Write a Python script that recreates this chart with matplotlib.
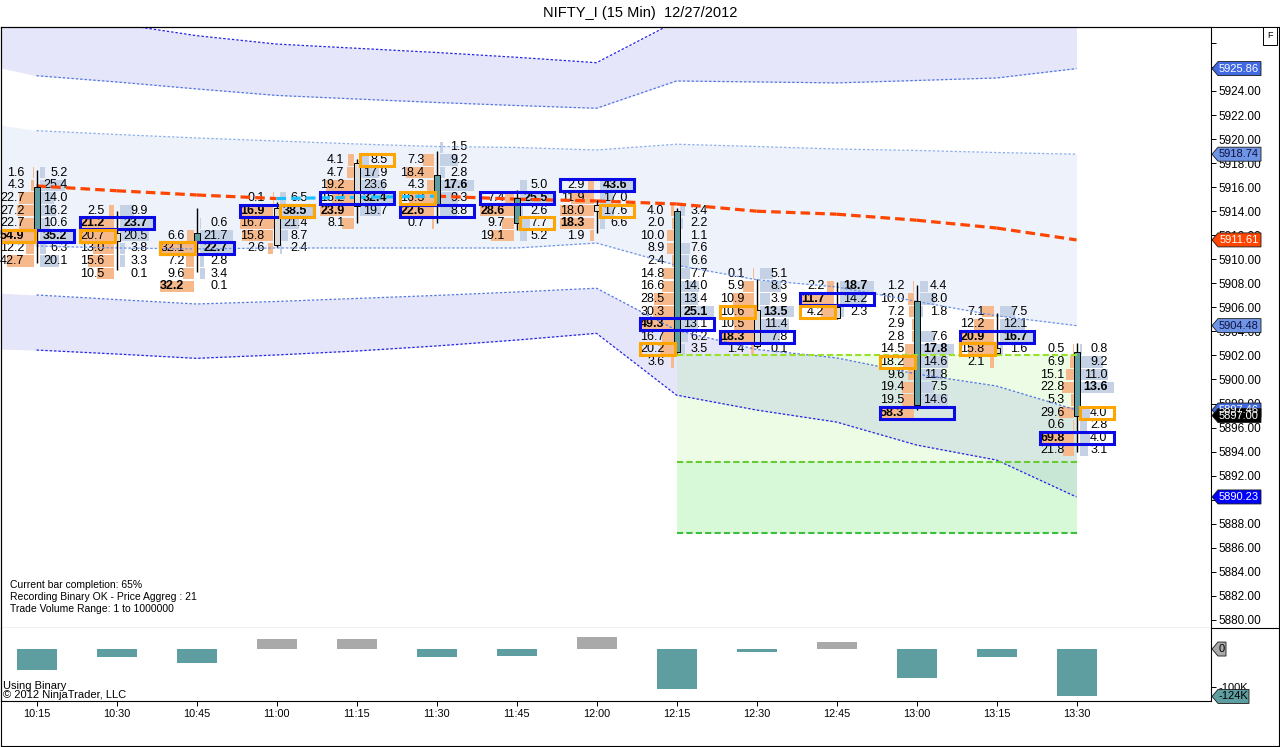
import numpy as np
import matplotlib.pyplot as plt
from matplotlib.patches import Rectangle, Polygon
from matplotlib.lines import Line2D
from matplotlib.transforms import IdentityTransform

plt.rcParams['font.family'] = ['Liberation Sans', 'DejaVu Sans']

# ---- data ----
times = ['10:15', '10:30', '10:45', '11:00', '11:15', '11:30', '11:45',
         '12:00', '12:15', '12:30', '12:45', '13:00', '13:15', '13:30']

opens  = [5916.0, 5911.5, 5912.2, 5911.2, 5914.4, 5917.0, 5915.1,
          5914.0, 5914.0, 5902.8, 5905.1, 5906.5, 5902.2, 5902.3]
highs  = [5917.4, 5914.0, 5914.3, 5914.8, 5918.3, 5919.0, 5915.8,
          5914.9, 5914.3, 5908.4, 5908.1, 5907.9, 5905.5, 5903.0]
lows   = [5909.7, 5909.1, 5908.9, 5911.0, 5913.0, 5913.0, 5912.4,
          5912.2, 5902.2, 5902.6, 5905.0, 5897.5, 5902.1, 5894.0]
closes = [5912.5, 5912.2, 5911.5, 5914.3, 5918.0, 5914.4, 5913.0,
          5914.5, 5902.3, 5905.8, 5906.0, 5897.9, 5902.6, 5897.0]

# price of the top footprint row of each bar (rows are 21 ticks = 1.05 apart)
row_step = 1.05
top_rows = [5917.20, 5914.05, 5913.00, 5915.10, 5918.25, 5919.30, 5916.15,
            5916.15, 5914.05, 5908.80, 5907.75, 5907.75, 5905.65, 5902.50]

bid_vals = [
    [1.6, 4.3, 22.7, 27.2, 22.7, 54.9, 12.2, 42.7],
    [2.5, 21.2, 20.7, 13.0, 15.6, 10.5],
    [None, 6.6, 32.1, 7.2, 9.6, 32.2],
    [0.1, 16.9, 16.7, 15.8, 2.6],
    [4.1, 4.7, 19.2, 15.2, 23.9, 8.1],
    [None, 7.3, 18.4, 4.3, 16.3, 22.6, 0.7],
    [None, 7.4, 28.6, 9.7, 19.1],
    [2.9, 11.9, 18.0, 18.3, 1.9],
    [4.0, 2.0, 10.0, 8.9, 2.4, 14.8, 16.6, 28.5, 30.3, 49.3, 16.7, 20.2, 3.6],
    [0.1, 5.9, 10.9, 10.6, 10.5, 18.3, 1.4],
    [2.2, 11.7, 4.2],
    [1.2, 10.0, 7.2, 2.9, 2.8, 14.5, 18.2, 9.6, 19.4, 19.5, 58.3],
    [7.1, 12.2, 20.9, 15.8, 2.1],
    [0.5, 6.9, 15.1, 22.8, 5.3, 29.6, 0.6, 69.8, 21.8],
]
ask_vals = [
    [5.2, 25.4, 14.0, 16.2, 10.6, 35.2, 6.3, 20.1],
    [9.9, 23.7, 20.5, 3.8, 3.3, 0.1],
    [0.6, 21.7, 22.7, 2.8, 3.4, 0.1],
    [6.5, 38.5, 21.4, 8.7, 2.4],
    [8.5, 17.9, 23.6, 32.4, 19.7, None],
    [1.5, 9.2, 2.8, 17.6, 9.3, 8.8, None],
    [5.0, 25.5, 2.6, 7.7, 5.2],
    [43.6, 17.0, 17.6, 6.6, None],
    [3.4, 2.2, 1.1, 7.6, 6.6, 7.7, 14.0, 13.4, 25.1, 13.1, 6.2, 3.5, None],
    [5.1, 8.3, 3.9, 13.5, 11.4, 7.8, 0.1],
    [18.7, 14.2, 2.3],
    [4.4, 8.0, 1.8, None, 7.6, 17.8, 14.6, 11.8, 7.5, 14.6, None],
    [7.5, 12.1, 16.7, 1.6, None],
    [0.8, 9.2, 11.0, 13.6, None, 4.0, 2.8, 4.0, 3.1],
]
# orange highlighted cell: (row index inside bar, side)
orange_cells = [(5, 'bid'), (2, 'bid'), (2, 'bid'), (1, 'ask'), (0, 'ask'),
                (4, 'bid'), (3, 'ask'), (2, 'ask'), (11, 'bid'), (3, 'bid'),
                (2, 'bid'), (6, 'bid'), (3, 'bid'), (5, 'ask')]

# moving average (orange/cyan dashed)
ema = [5916.1, 5915.7, 5915.35, 5915.05, 5915.15, 5915.25, 5915.0,
       5914.85, 5914.6, 5914.0, 5913.75, 5913.25, 5912.6, 5911.61]

# band lines, first value is the 10:00 bar just off the left edge
band_x = list(range(-1, 14))
ub_out = [5931.0, 5930.3, 5929.6, 5928.6, 5927.9, 5927.55, 5927.2, 5926.8,
          5926.35, 5929.8, 5931.0, 5931.2, 5931.0, 5931.3, 5932.0]
ub_in  = [5926.69, 5925.27, 5924.75, 5924.17, 5923.63, 5923.33, 5923.04, 5922.79,
          5922.56, 5924.83, 5924.75, 5924.67, 5924.87, 5925.08, 5925.86]
mb_top = [5921.72, 5920.70, 5920.38, 5920.09, 5919.84, 5919.59, 5919.38, 5919.30,
          5919.09, 5919.57, 5919.38, 5919.17, 5919.05, 5918.88, 5918.74]
mb_bot = [5911.35, 5911.10, 5910.94, 5910.86, 5910.94, 5910.94, 5910.94, 5910.94,
          5911.35, 5909.50, 5908.30, 5907.70, 5906.50, 5905.30, 5904.48]
lb_top = [5907.36, 5907.03, 5906.65, 5906.28, 5906.49, 5906.74, 5906.99, 5907.28,
          5907.59, 5904.10, 5902.50, 5901.80, 5900.46, 5899.46, 5897.46]
lb_bot = [5902.62, 5902.45, 5902.12, 5901.76, 5902.04, 5902.37, 5902.79, 5903.28,
          5903.84, 5898.70, 5897.46, 5896.46, 5894.55, 5893.30, 5890.23]

# green zone from 12:15 to 13:30
zone_start, zone_end = 8, 13
zone_top, zone_mid, zone_bot = 5902.04, 5893.13, 5887.23

# bar delta volume (thousands)
delta = [-54, -20, -36, 26, 26, -20, -17, 31, -104, -7, 18, -75, -20, -124]

info_lines = ['Current bar completion: 65%',
              'Recording Binary OK - Price Aggreg : 21',
              'Trade Volume Range: 1 to 1000000']

TEAL = '#5f9ea0'
UPFILL = '#dcdcdc'
BIDC = '#f6b98c'
ASKC = '#c5d2e6'

W, H = 1280, 747
def fx(x):
    return x / W
def fy(y):
    return 1 - y / H

fig = plt.figure(figsize=(12.8, 7.47), dpi=100)
ax = fig.add_axes([fx(1), fy(628), fx(1211) - fx(1), fy(27) - fy(628)])
axv = fig.add_axes([fx(1), fy(701), fx(1211) - fx(1), fy(628) - fy(701)])

PX = 1 / 80.0   # one screen pixel in bar units
xlim = ((1 - 36.5) * PX, (1211 - 36.5) * PX)
ax.set_xlim(*xlim)
axv.set_xlim(*xlim)
ax.set_ylim(5879.33, 5929.32)
axv.set_ylim(-136, 55)

# ---- bands ----
ax.fill_between(band_x, ub_in, ub_out, color='#e6e6fa', lw=0, zorder=1)
ax.fill_between(band_x, mb_bot, mb_top, color='#eef2fb', lw=0, zorder=1)
ax.fill_between(band_x, lb_bot, lb_top, color='#e6e6fa', lw=0, zorder=1)

zx = [zone_start, zone_end]
ax.fill_between(zx, zone_mid, zone_top, color='#7cf04c', alpha=0.14, lw=0, zorder=1.5)
ax.fill_between(zx, zone_bot, zone_mid, color='#90ee90', alpha=0.35, lw=0, zorder=1.5)
ax.hlines(zone_top, zone_start, zone_end, colors='#99e22a', lw=1.5, linestyles=(0, (3, 1.5)), zorder=6)
ax.hlines(zone_mid, zone_start, zone_end, colors='#66cc33', lw=1.5, linestyles=(0, (3, 1.5)), zorder=6)
ax.hlines(zone_bot, zone_start, zone_end, colors='#3cbf3c', lw=1.5, linestyles=(0, (3, 1.5)), zorder=6)

# ---- footprint cells ----
for i in range(len(times)):
    bids, asks = bid_vals[i], ask_vals[i]
    rows = [top_rows[i] - row_step * k for k in range(len(bids))]
    bmax = max(v for v in bids if v is not None)
    amax = max(v for v in asks if v is not None)
    totals = [(b or 0) + (a or 0) for b, a in zip(bids, asks)]
    for k, p in enumerate(rows):
        b, a = bids[k], asks[k]
        if b is not None:
            L = b / bmax * 34 * PX
            ax.add_patch(Rectangle((i - 3 * PX - L, p - 0.47), L, 0.94, fc=BIDC, lw=0, zorder=2))
            ax.text(i - 12 * PX, p, f'{b:.1f}', ha='right', va='center', fontsize=9,
                    fontweight='bold' if b == bmax else 'normal', zorder=3)
        if a is not None:
            L = a / amax * 34 * PX
            ax.add_patch(Rectangle((i + 3.5 * PX, p - 0.47), L, 0.94, fc=ASKC, lw=0, zorder=2))
            ax.text(i + 31 * PX, p, f'{a:.1f}', ha='right', va='center', fontsize=9,
                    fontweight='bold' if a == amax else 'normal', zorder=3)
    # point of control box
    kp = int(np.argmax(totals))
    ax.add_patch(Rectangle((i - 36.5 * PX, rows[kp] - 0.5), 74 * PX, 1.0, fill=False,
                           ec='#0a0ae6', lw=2.2, zorder=7))
    ko, side = orange_cells[i]
    x0 = i - 36.5 * PX if side == 'bid' else i + 3 * PX
    ax.add_patch(Rectangle((x0, rows[ko] - 0.5), 34.5 * PX, 1.0, fill=False,
                           ec='#ffa500', lw=2.2, zorder=8))

# ---- band lines ----
bx = band_x[1:]
dot = (0, (2, 1.5))
ax.plot(bx, ub_out[1:], color='#2626e6', lw=0.9, ls=dot, zorder=4)
ax.plot(bx, ub_in[1:], color='#5578e0', lw=0.9, ls=dot, zorder=4)
ax.plot(bx, mb_top[1:], color='#8fb0ee', lw=0.9, ls=dot, zorder=4)
ax.plot(bx, mb_bot[1:], color='#6f95e6', lw=0.9, ls=dot, zorder=4)
ax.plot(bx, lb_top[1:], color='#5578e0', lw=0.9, ls=dot, zorder=4)
ax.plot(bx, lb_bot[1:], color='#2626e6', lw=0.9, ls=dot, zorder=4)

# ---- moving average, cyan where rising ----
for i in range(len(ema) - 1):
    c = '#1ec0ff' if ema[i + 1] > ema[i] else '#ff4500'
    ax.plot([i, i + 1], [ema[i], ema[i + 1]], color=c, lw=2.3,
            dashes=(3, 1.6), solid_capstyle='butt', zorder=4.5)

# ---- candles ----
for i in range(len(times)):
    o, h, l, c = opens[i], highs[i], lows[i], closes[i]
    ax.vlines(i, l, h, color='black', lw=1, zorder=5)
    body_lo = min(o, c)
    body_h = max(abs(c - o), 0.1)
    ax.add_patch(Rectangle((i - 3 * PX, body_lo), 6 * PX, body_h,
                           fc=TEAL if c < o else UPFILL, ec='black', lw=0.7, zorder=5.5))

# ---- info text ----
for j, s in enumerate(info_lines):
    ax.text(9 / 1210, (628 - 585 - 12 * j) / 601, s, transform=ax.transAxes,
            fontsize=7.5, va='center', ha='left', zorder=9)

# ---- axes styling ----
ax.tick_params(axis='x', bottom=False, labelbottom=False)
ax.yaxis.tick_right()
ticks = np.arange(5880, 5929, 2)
hidden = [5928, 5926, 5890]   # covered by the value tags / top edge
ax.set_yticks(ticks)
ax.set_yticklabels(['' if t in hidden else f'{t:.2f}' for t in ticks])
ax.tick_params(axis='y', direction='out', length=3.6, width=0.7, labelsize=8.5, pad=2)
for sp in ax.spines.values():
    sp.set_linewidth(0.8)

# ---- delta panel ----
xs = np.arange(len(times))
axv.bar(xs, delta, width=0.5, color=[TEAL if d < 0 else '#a9a9a9' for d in delta], zorder=2)
axv.yaxis.tick_right()
axv.set_yticks([-100])
axv.set_yticklabels(['-100K'])
axv.tick_params(axis='y', direction='out', length=3.6, width=0.7, labelsize=8, pad=2)
axv.set_xticks(xs)
axv.set_xticklabels(times)
axv.tick_params(axis='x', direction='out', length=3.6, width=0.7, labelsize=7.8, pad=2)
axv.spines['top'].set_visible(False)
for sp in axv.spines.values():
    sp.set_linewidth(0.8)
axv.text(2 / 1210, (701 - 686) / 73, 'Using Binary', transform=axv.transAxes,
         fontsize=8, va='center', ha='left')
axv.text(2 / 1210, (701 - 695) / 73, '\u00a9 2012 NinjaTrader, LLC', transform=axv.transAxes,
         fontsize=8, va='center', ha='left')

# ---- outer frame ----
def frame_line(x0, y0, x1, y1):
    fig.add_artist(Line2D([fx(x0), fx(x1)], [fy(y0), fy(y1)], color='black', lw=0.8,
                          transform=fig.transFigure))

frame_line(1, 27, 1278.5, 27)
frame_line(1278.5, 27, 1278.5, 745.5)
frame_line(1, 745.5, 1278.5, 745.5)
frame_line(1, 27, 1, 745.5)
frame_line(1211, 628, 1278.5, 628)

fig.text(0.5, fy(13), 'NIFTY_I (15 Min)  12/27/2012', ha='center', va='center', fontsize=10.5)
fig.text(fx(1270), fy(36), 'F', ha='center', va='center', fontsize=6.5,
         bbox=dict(boxstyle='square,pad=0.45', fc='white', ec='black', lw=0.7))

# ---- price tags on the right scale ----
def tag(axis, value, label, bg, fg, width=50):
    x0 = axis.transAxes.transform((1, 0))[0]
    y0 = axis.transData.transform((0, value))[1]
    h = 7
    verts = [(x0 + 1, y0), (x0 + 7, y0 + h), (x0 + width, y0 + h),
             (x0 + width, y0 - h), (x0 + 7, y0 - h)]
    fig.add_artist(Polygon(verts, closed=True, fc=bg, ec='#1a1a1a', lw=0.6,
                           transform=IdentityTransform(), zorder=10))
    fig.text(x0 + 6 + (width - 6) / 2, y0, label, transform=IdentityTransform(),
             ha='center', va='center', fontsize=8, color=fg, zorder=11)

tag(ax, ub_in[-1], f'{ub_in[-1]:.2f}', '#4169e1', 'white')
tag(ax, mb_top[-1], f'{mb_top[-1]:.2f}', '#6f95e6', '#101040')
tag(ax, ema[-1], f'{ema[-1]:.2f}', '#ff4500', 'white')
tag(ax, mb_bot[-1], f'{mb_bot[-1]:.2f}', '#6f95e6', '#101040')
tag(ax, lb_top[-1], f'{lb_top[-1]:.2f}', '#4169e1', 'white')
tag(ax, closes[-1], f'{closes[-1]:.2f}', 'black', 'white')
tag(ax, lb_bot[-1], f'{lb_bot[-1]:.2f}', '#0000ff', 'white')
tag(axv, 0, '0', '#a9a9a9', 'black', width=15)
tag(axv, delta[-1], f'{delta[-1]}K', TEAL, 'black', width=38)

fig.savefig('out.png', dpi=100)
